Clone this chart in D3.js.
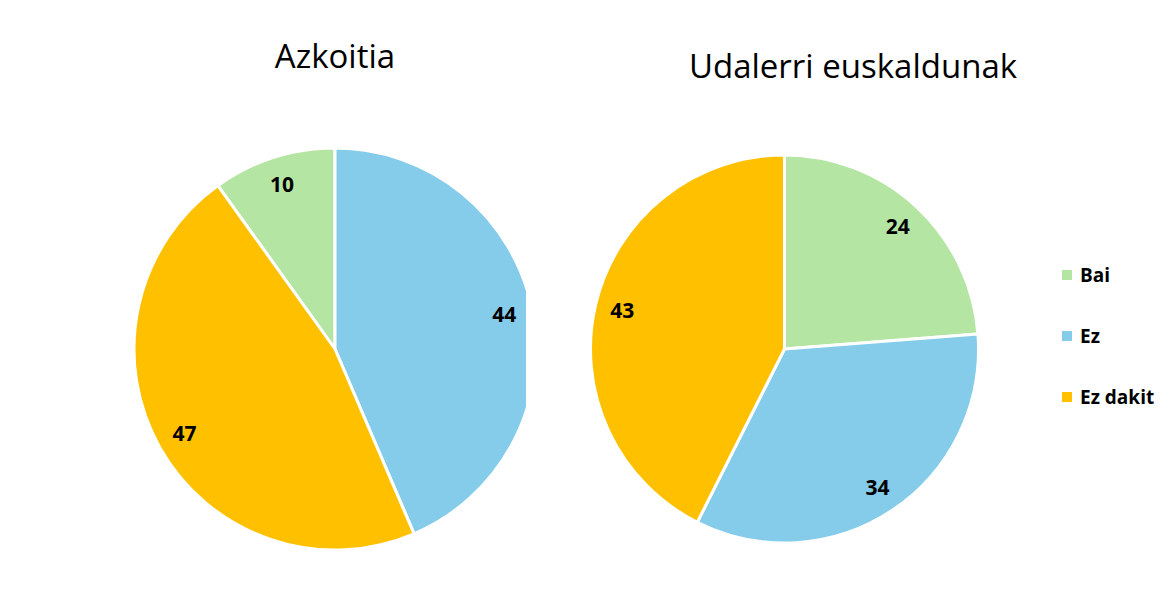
<!DOCTYPE html>
<html>
<head>
<meta charset="utf-8">
<script src="https://cdn.jsdelivr.net/npm/d3@7"></script>
<style>
  body { margin: 0; background: #fff; }
  text { font-family: "Open Sans", sans-serif; }
</style>
</head>
<body>
<div id="chart"></div>
<script>
// categories and values
var categories = ["Bai", "Ez", "Ez dakit"];
var azkoitia = [10, 44, 47];
var udalerri = [24, 34, 43];
var titles = ["Azkoitia", "Udalerri euskaldunak"];

// colors
var colors = ["#B5E5A3", "#85CBEA", "#FFC000"];

var w = 1169, h = 605;

var svg = d3.select("#chart").append("svg")
    .attr("width", w)
    .attr("height", h);

var color = d3.scaleOrdinal().domain(categories).range(colors);

// one pie per area
function drawPie(values, title, cx, cy, r, rot, titleX, titleY, clipRight) {
    var data = categories.map(function (c, i) { return {label: c, value: values[i]}; });
    var total = d3.sum(values);
    // first slice angle
    var start = rot ? -2 * Math.PI * values[0] / total : 0;

    var pie = d3.pie().sort(null).value(function (d) { return d.value; })
        .startAngle(start).endAngle(start + 2 * Math.PI);
    var arc = d3.arc().innerRadius(0).outerRadius(r);
    var labelArc = d3.arc().innerRadius(r * 0.86).outerRadius(r * 0.86);

    var id = "clip" + Math.round(cx);
    if (clipRight) {
        svg.append("clipPath").attr("id", id)
            .append("rect")
            .attr("x", cx - r - 5).attr("y", cy - r - 5)
            .attr("width", r + 5 + clipRight).attr("height", 2 * r + 10);
    }

    var g = svg.append("g");
    if (clipRight) g.attr("clip-path", "url(#" + id + ")");
    g = g.append("g").attr("transform", "translate(" + cx + "," + cy + ")");

    g.selectAll("path")
        .data(pie(data))
        .enter()
        .append("path")
        .attr("d", arc)
        .attr("fill", function (d) { return color(d.data.label); })
        .attr("stroke", "#fff")
        .attr("stroke-width", 3)
        .attr("stroke-linejoin", "round");

    g.selectAll("text.lbl")
        .data(pie(data))
        .enter()
        .append("text")
        .attr("class", "lbl")
        .attr("transform", function (d) { return "translate(" + labelArc.centroid(d) + ")"; })
        .attr("text-anchor", "middle")
        .attr("dy", "0.36em")
        .style("font-size", "21px")
        .style("font-weight", "bold")
        .attr("fill", "#000")
        .text(function (d) { return d.data.value; });

    svg.append("text")
        .attr("x", titleX)
        .attr("y", titleY)
        .attr("text-anchor", "middle")
        .style("font-size", "33px")
        .attr("fill", "#000")
        .text(title);
}

drawPie(azkoitia, titles[0], 335, 349, 201, true, 335, 68, 191);
drawPie(udalerri, titles[1], 784.5, 349, 194, false, 853, 78, 0);

// legend
var legend = svg.append("g").attr("transform", "translate(1062,275)");
var items = legend.selectAll("g")
    .data(categories)
    .enter()
    .append("g")
    .attr("transform", function (d, i) { return "translate(0," + i * 61 + ")"; });

items.append("rect")
    .attr("x", 0).attr("y", -5)
    .attr("width", 10).attr("height", 10)
    .attr("fill", function (d) { return color(d); });

items.append("text")
    .attr("x", 18)
    .attr("dy", "0.36em")
    .style("font-size", "19px")
    .style("font-weight", "bold")
    .attr("fill", "#000")
    .text(function (d) { return d; });
</script>
</body>
</html>
